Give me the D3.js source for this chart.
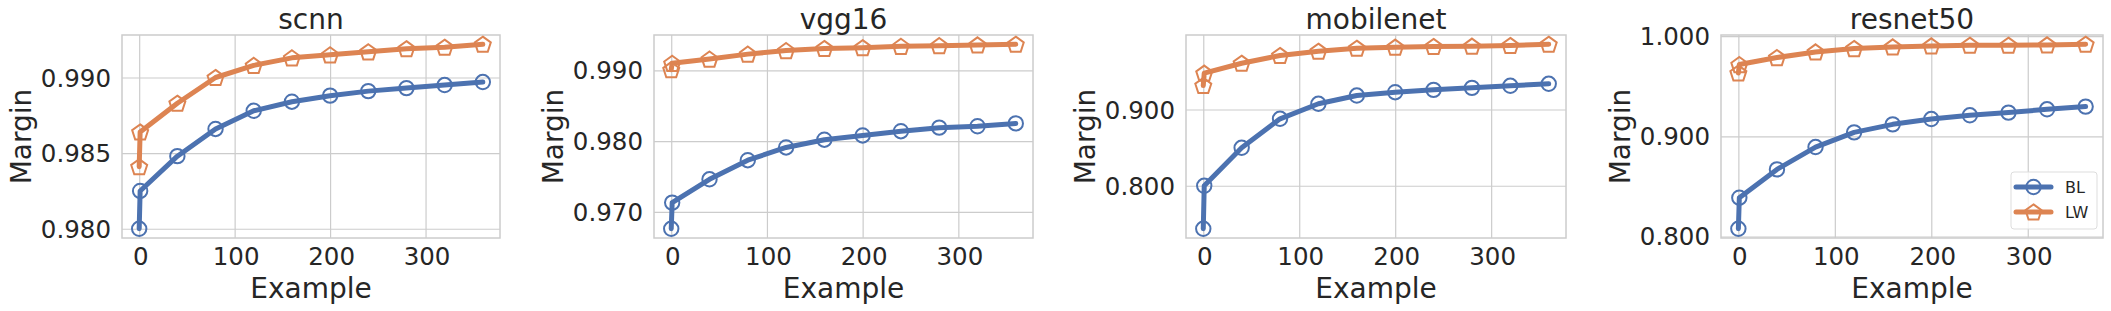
<!DOCTYPE html>
<html>
<head>
<meta charset="utf-8">
<script src="https://cdn.jsdelivr.net/npm/d3@7"></script>
<style>
  body { margin: 0; background: #fff; }
  text { font-family: "DejaVu Sans", sans-serif; fill: #262626; }
</style>
</head>
<body>
<div id="my_dataviz"></div>
<script>
// data
var examples = [0, 1, 40, 80, 120, 160, 200, 240, 280, 320, 360];
var models = ["scnn", "vgg16", "mobilenet", "resnet50"];
var seriesNames = ["BL", "LW"];

var scnnBL = [0.9800, 0.9825, 0.9848, 0.9866, 0.9878, 0.9884, 0.9888, 0.9891, 0.9893, 0.9895, 0.9897];
var scnnLW = [0.9841, 0.9864, 0.9883, 0.9900, 0.9908, 0.9913, 0.9915, 0.9917, 0.9919, 0.9920, 0.9922];
var vggBL = [0.9676, 0.9713, 0.9746, 0.9773, 0.9791, 0.9802, 0.9808, 0.9814, 0.9819, 0.9821, 0.9825];
var vggLW = [0.9901, 0.9910, 0.9916, 0.9923, 0.9928, 0.9931, 0.9932, 0.9934, 0.9935, 0.9936, 0.9937];
var mobileBL = [0.7436, 0.8000, 0.8498, 0.8878, 0.9075, 0.9183, 0.9227, 0.9258, 0.9284, 0.9311, 0.9337];
var mobileLW = [0.9315, 0.9476, 0.9607, 0.9708, 0.9764, 0.9803, 0.9817, 0.9826, 0.9830, 0.9839, 0.9856];
var resnetBL = [0.8077, 0.8387, 0.8670, 0.8893, 0.9040, 0.9120, 0.9173, 0.9210, 0.9237, 0.9270, 0.9297];
var resnetLW = [0.9633, 0.9717, 0.9787, 0.9843, 0.9877, 0.9893, 0.9903, 0.9910, 0.9910, 0.9913, 0.9920];

var xTicks = [0, 100, 200, 300];
var scnnTicks = [0.980, 0.985, 0.990];
var vggTicks = [0.970, 0.980, 0.990];
var mobileTicks = [0.800, 0.900];
var resnetTicks = [0.800, 0.900, 1.000];

var panelValues = [[scnnBL, scnnLW], [vggBL, vggLW], [mobileBL, mobileLW], [resnetBL, resnetLW]];
var panelTicks = [scnnTicks, vggTicks, mobileTicks, resnetTicks];

// layout
var W = 2111, H = 311;
var plotTop = 35, plotBottom = 238;
var lefts = [122, 654, 1186, 1721];
var rights = [500, 1033, 1566, 2103];
var colors = ["#4c72b0", "#dd8452"];
var grid = "#cccccc";

var svg = d3.select("#my_dataviz")
  .append("svg")
    .attr("width", W)
    .attr("height", H);

// pentagon pointing up, like matplotlib "p"
function pentagon(r) {
  var pts = d3.range(5).map(function(i) {
    var a = -Math.PI / 2 + i * 2 * Math.PI / 5;
    return [r * Math.cos(a), r * Math.sin(a)];
  });
  return "M" + pts.join("L") + "Z";
}

function drawMarker(g, k, cx, cy) {
  if (k === 0) {
    g.append("circle")
      .attr("cx", cx).attr("cy", cy).attr("r", 7.2)
      .attr("fill", "none").attr("stroke", colors[0]).attr("stroke-width", 2);
  } else {
    g.append("path")
      .attr("d", pentagon(8.4))
      .attr("transform", "translate(" + cx + "," + (cy + 0.8) + ")")
      .attr("fill", "none").attr("stroke", colors[1]).attr("stroke-width", 2)
      .attr("stroke-linejoin", "miter");
  }
}

models.forEach(function(name, p) {
  var vals = panelValues[p];
  var all = vals[0].concat(vals[1]);
  var lo = d3.min(all), hi = d3.max(all), pad = (hi - lo) * 0.05;

  var x = d3.scaleLinear()
    .domain([-18, 378])
    .range([lefts[p], rights[p]]);
  var y = d3.scaleLinear()
    .domain([lo - pad, hi + pad])
    .range([plotBottom, plotTop]);

  var g = svg.append("g");

  // grid
  g.append("g")
    .attr("transform", "translate(0," + plotBottom + ")")
    .call(d3.axisBottom(x).tickValues(xTicks).tickSize(-(plotBottom - plotTop)).tickFormat(""))
    .call(function(s) { s.select(".domain").remove(); })
    .selectAll("line").attr("stroke", grid).attr("stroke-width", 1.2);
  g.append("g")
    .attr("transform", "translate(" + lefts[p] + ",0)")
    .call(d3.axisLeft(y).tickValues(panelTicks[p]).tickSize(-(rights[p] - lefts[p])).tickFormat(""))
    .call(function(s) { s.select(".domain").remove(); })
    .selectAll("line").attr("stroke", grid).attr("stroke-width", 1.2);

  // frame
  g.append("rect")
    .attr("x", lefts[p]).attr("y", plotTop)
    .attr("width", rights[p] - lefts[p]).attr("height", plotBottom - plotTop)
    .attr("fill", "none").attr("stroke", grid).attr("stroke-width", 1.5);

  // tick labels
  g.selectAll(".xt")
    .data(xTicks)
    .enter().append("text")
      .attr("x", function(d) { return x(d) + 1.5; })
      .attr("y", 265)
      .attr("text-anchor", "middle")
      .attr("font-size", "24.5px")
      .text(function(d) { return d; });
  g.selectAll(".yt")
    .data(panelTicks[p])
    .enter().append("text")
      .attr("x", lefts[p] - 11)
      .attr("y", function(d) { return y(d) + 9; })
      .attr("text-anchor", "end")
      .attr("font-size", "24.5px")
      .text(function(d) { return d3.format(".3f")(d); });

  // labels
  var cx = (lefts[p] + rights[p]) / 2;
  g.append("text")
    .attr("x", cx).attr("y", 29)
    .attr("text-anchor", "middle")
    .attr("font-size", "28px")
    .text(name);
  g.append("text")
    .attr("x", cx).attr("y", 298)
    .attr("text-anchor", "middle")
    .attr("font-size", "28px")
    .text("Example");
  g.append("text")
    .attr("transform", "translate(" + (lefts[p] - 91) + "," + ((plotTop + plotBottom) / 2) + ")rotate(-90)")
    .attr("text-anchor", "middle")
    .attr("font-size", "28px")
    .text("Margin");

  // series
  vals.forEach(function(v, k) {
    var line = d3.line()
      .x(function(d, i) { return x(examples[i]); })
      .y(function(d) { return y(d); });
    g.append("path")
      .datum(v)
      .attr("d", line)
      .attr("fill", "none")
      .attr("stroke", colors[k])
      .attr("stroke-width", 5)
      .attr("stroke-linejoin", "round")
      .attr("stroke-linecap", "round");
    v.forEach(function(d, i) {
      drawMarker(g, k, x(examples[i]), y(d));
    });
  });

  // legend in last panel
  if (p === models.length - 1) {
    var lg = g.append("g");
    lg.append("rect")
      .attr("x", 2011).attr("y", 172)
      .attr("width", 86).attr("height", 57)
      .attr("rx", 3)
      .attr("fill", "#fff").attr("fill-opacity", 0.8)
      .attr("stroke", "#dddddd").attr("stroke-width", 1);
    seriesNames.forEach(function(s, k) {
      var ly = 187 + k * 25;
      drawMarker(lg, k, 2033.5, ly);
      lg.append("line")
        .attr("x1", 2016).attr("x2", 2051)
        .attr("y1", ly).attr("y2", ly)
        .attr("stroke", colors[k]).attr("stroke-width", 5)
        .attr("stroke-linecap", "round");
      lg.append("text")
        .attr("x", 2065).attr("y", ly + 6)
        .attr("font-size", "16px")
        .text(s);
    });
  }
});
</script>
</body>
</html>
